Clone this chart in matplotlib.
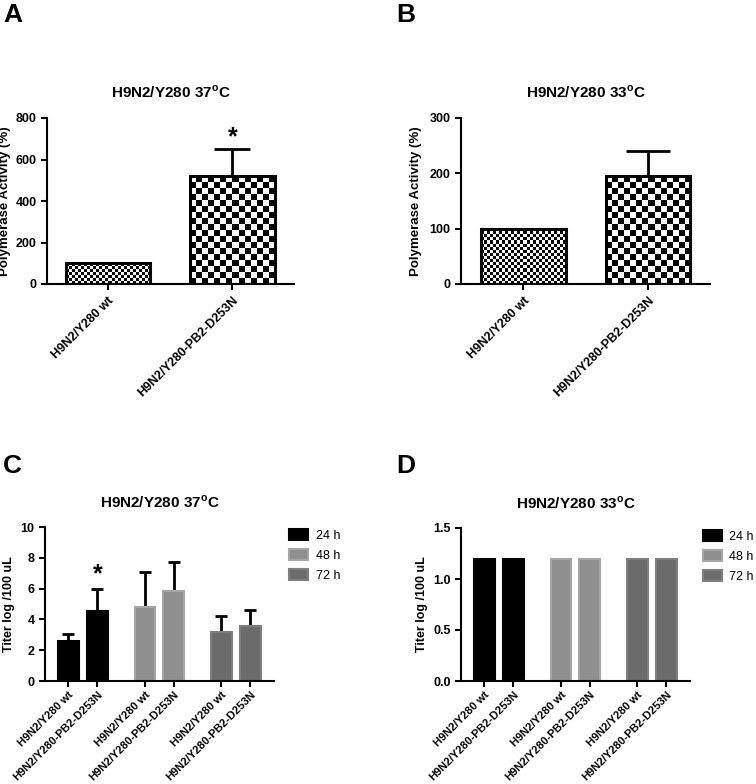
import numpy as np
import matplotlib
matplotlib.use('Agg')
import matplotlib.pyplot as plt

plt.rcParams['font.family'] = ['Liberation Sans', 'DejaVu Sans']
plt.rcParams['font.weight'] = 'bold'
plt.rcParams['mathtext.fontset'] = 'custom'
plt.rcParams['mathtext.rm'] = 'Liberation Sans'
plt.rcParams['mathtext.bf'] = 'Liberation Sans:bold'

# data
strains = ['H9N2/Y280 wt', 'H9N2/Y280-PB2-D253N']
act37 = [100, 520]
act37_err = [0, 130]
act33 = [100, 195]
act33_err = [0, 46]

hours = ['24 h', '48 h', '72 h']
titer37 = [[2.6, 4.56], [4.8, 5.84], [3.16, 3.6]]
titer37_err = [[0.43, 1.42], [2.26, 1.86], [1.04, 1.0]]
titer33 = [[1.2, 1.2], [1.2, 1.2], [1.2, 1.2]]

fills = ['#000000', '#8f8f8f', '#6c6c6c']
edges = ['#000000', '#a6a6a6', '#7f7f7f']

W, H = 756, 784
fig = plt.figure(figsize=(W / 100, H / 100), dpi=100)


def axes_px(l, t, r, b):
    return fig.add_axes([l / W, 1 - b / H, (r - l) / W, (b - t) / H])


def style(ax, xsize, xpad):
    for s in ['top', 'right']:
        ax.spines[s].set_visible(False)
    for s in ['left', 'bottom']:
        ax.spines[s].set_linewidth(1.5)
    ax.tick_params(width=1.5, length=4, labelsize=9)
    ax.tick_params(axis='x', labelsize=xsize, pad=xpad)


def checker(ax, bar, sq):
    x0, y0 = bar.get_x(), bar.get_y()
    w, h = bar.get_width(), bar.get_height()
    p0 = ax.transData.transform((x0, y0))
    p1 = ax.transData.transform((x0 + w, y0 + h))
    nx = max(1, int(round((p1[0] - p0[0]) / sq)))
    ny = max(1, int(round((p1[1] - p0[1]) / sq)))
    img = np.indices((ny, nx)).sum(axis=0) % 2
    im = ax.imshow(img, cmap='gray', extent=(x0, x0 + w, y0, y0 + h),
                   aspect='auto', interpolation='nearest', origin='lower',
                   zorder=2)
    im.set_clip_path(bar)


def title37(t):
    return 'H9N2/Y280 ' + t + '$^{\\mathbf{o}}$C'


def panel_ab(ax, vals, errs, top, ticks, capsize, ttl, xlim):
    x = np.arange(len(vals))
    ax.set_xlim(*xlim)
    ax.set_ylim(0, top)
    bars = ax.bar(x, vals, width=0.675, color='white', edgecolor='none', zorder=1)
    for b, sq in zip(bars, [3.0, 6.0]):
        checker(ax, b, sq)
    ax.bar(x, vals, width=0.675, fill=False, edgecolor='black', linewidth=2.2, zorder=3)
    ax.errorbar(x, vals, yerr=[np.zeros(len(vals)), errs], fmt='none', ecolor='black',
                elinewidth=2, capsize=capsize, capthick=2, zorder=0.5)
    style(ax, 9, 3.5)
    ax.set_yticks(ticks)
    ax.set_xticks(x)
    ax.set_xticklabels(strains, rotation=45, ha='right', rotation_mode='anchor')
    ax.set_ylabel('Polymerase Activity (%)', fontsize=9.5, fontweight='bold')
    ax.set_title(title37(ttl), fontsize=11, fontweight='bold', pad=15)
    return x


axA = axes_px(47, 118, 294, 284)
xA = panel_ab(axA, act37, act37_err, 800, [0, 200, 400, 600, 800], 13, '37', (-0.49, 1.494))
axA.text(xA[1], 705, '*', ha='center', va='center', fontsize=18, fontweight='bold')
axA.yaxis.set_label_coords(-0.146, 0.5)

axB = axes_px(461, 118, 710, 284)
panel_ab(axB, act33, act33_err, 300, [0, 100, 200, 300], 16, '33', (-0.502, 1.498))
axB.yaxis.set_label_coords(-0.157, 0.5)


def panel_cd(ax, vals, errs, top, ticks, ttl, fmt, legx):
    pos = [[0, 1], [2.65, 3.65], [5.3, 6.3]]
    ax.set_xlim(-0.81, 7.12)
    ax.set_ylim(0, top)
    for i in range(3):
        ax.bar(pos[i], vals[i], width=0.72, color=fills[i], edgecolor=edges[i],
               linewidth=1.5, label=hours[i], zorder=2)
        if errs is not None:
            ax.errorbar(pos[i], vals[i], yerr=[[0, 0], errs[i]], fmt='none', ecolor='black',
                        elinewidth=2, capsize=4, capthick=2, zorder=1)
    style(ax, 8.0, 2)
    ax.set_yticks(ticks)
    ax.set_yticklabels([fmt.format(t) for t in ticks])
    ax.set_xticks([p for g in pos for p in g])
    ax.set_xticklabels(strains * 3, rotation=45, ha='right', rotation_mode='anchor')
    ax.set_ylabel('Titer log /100 uL', fontsize=9, fontweight='bold')
    ax.set_title(title37(ttl), fontsize=11, fontweight='bold', pad=14)
    ax.legend(loc='upper left', bbox_to_anchor=(legx, 0.985), frameon=False,
              borderaxespad=0, borderpad=0, handlelength=1.55, handleheight=0.9,
              handletextpad=0.6, labelspacing=0.6,
              prop={'size': 9, 'weight': 'normal'})
    return pos


axC = axes_px(45, 527, 274, 681)
posC = panel_cd(axC, titer37, titer37_err, 10, [0, 2, 4, 6, 8, 10], '37', '{:g}', 1.066)
axC.text(posC[0][1], 6.9, '*', ha='center', va='center', fontsize=18, fontweight='bold')
axC.yaxis.set_label_coords(-0.131, 0.5)

axD = axes_px(461, 528, 690, 681)
panel_cd(axD, titer33, None, 1.5, [0, 0.5, 1.0, 1.5], '33', '{:.1f}', 1.055)
axD.yaxis.set_label_coords(-0.144, 0.5)

for lab, px, py in [('A', 3, 22), ('B', 396, 22), ('C', 3, 473), ('D', 396, 473)]:
    fig.text(px / W, 1 - py / H, lab, fontsize=19, fontweight='bold', va='baseline')

fig.savefig('out.png', dpi=100)
